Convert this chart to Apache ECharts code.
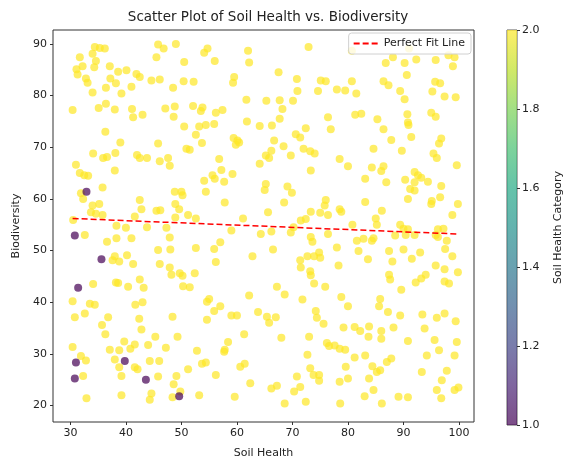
<!DOCTYPE html>
<html>
<head>
<meta charset="utf-8">
<script src="https://cdn.jsdelivr.net/npm/echarts@6/dist/echarts.min.js"></script>
<style>html,body{margin:0;padding:0;background:#fff}#chart{width:565px;height:464px}</style>
</head>
<body>
<div id="chart"></div>
<script>
// Soil Health Category 2 points: [Soil Health, Biodiversity]
const category2Points = [
[34.4,89.4],[35.3,89.2],[36.2,89.1],[34.0,88.1],[31.7,87.4],[34.6,86.7],[34.3,85.5],[32.2,85.7],[31.1,85.1],[31.3,84.1],[32.8,83.3],[33.1,82.5],[34.0,80.6],[37.1,85.7],[38.6,84.6],[40.1,84.9],[37.2,83.3],[38.2,82.4],[36.4,81.5],[39.2,80.4],[41.0,81.7],[41.9,84.2],[42.5,83.6],[44.6,82.9],[46.1,83.1],[45.8,89.9],[46.8,89.1],[49.0,90.0],[45.5,87.4],[50.5,86.5],[48.5,81.5],[50.4,82.8],[52.2,82.7],[30.4,77.2],[35.1,77.6],[36.4,78.4],[38.0,77.3],[41.1,77.4],[41.3,75.8],[43.0,76.3],[47.1,77.5],[48.8,77.9],[48.6,75.9],[52.1,78.0],[50.5,74.0],[36.3,73.0],[39.0,70.9],[45.8,70.7],[34.1,68.8],[35.9,67.9],[36.6,68.1],[38.1,68.9],[42.0,68.5],[42.5,67.9],[43.8,67.9],[47.6,67.9],[50.9,69.7],[51.5,69.5],
[54.7,89.1],[54.1,88.3],[56.0,86.7],[62.0,88.7],[62.2,86.4],[72.9,89.4],[67.5,84.5],[59.5,83.6],[59.3,82.5],[70.8,83.2],[75.1,82.9],[76.0,82.8],[74.6,80.9],[70.9,80.9],[61.7,79.2],[65.3,79.0],[67.7,79.1],[70.1,79.0],[68.2,77.4],[53.8,77.7],[53.5,77.0],[56.2,76.7],[57.4,77.2],[76.4,75.8],[61.8,75.0],[64.1,74.1],[66.3,74.2],[67.7,75.5],[53.2,74.0],[54.4,74.3],[55.9,74.5],[52.6,72.4],[53.7,70.8],[72.4,73.7],[76.9,73.5],[70.6,72.5],[71.4,71.9],[59.4,71.8],[60.1,71.3],[59.8,70.5],[60.4,70.9],[66.7,71.3],[68.4,70.2],[72.0,69.7],[73.2,69.2],[74.0,68.8],[66.2,69.3],[65.2,68.4],[65.8,67.9],[69.7,68.4],[56.8,67.7],
[80.7,88.7],[91.0,89.1],[86.8,86.3],[88.1,87.4],[90.2,86.3],[92.3,87.0],[95.8,86.9],[98.1,87.8],[99.2,87.4],[98.9,85.7],[90.6,84.0],[80.7,82.8],[86.4,82.8],[87.3,82.0],[78.0,81.2],[79.5,81.0],[81.5,80.4],[89.4,80.9],[90.2,79.3],[95.2,80.8],[95.7,82.7],[96.6,82.4],[97.4,79.8],[99.4,79.7],[81.3,76.3],[82.4,76.5],[85.3,75.4],[86.4,73.5],[90.7,76.4],[90.8,74.8],[90.9,74.3],[95.0,76.7],[95.8,75.9],[87.8,71.4],[91.4,72.0],[96.8,71.7],[96.4,70.7],[84.6,69.7],[89.7,69.3],[95.4,68.8],[96.0,67.9],[78.5,67.7],
[31.0,66.6],[46.1,67.3],[47.9,66.4],[38.0,65.5],[31.7,65.0],[32.5,64.6],[33.2,64.5],[35.8,62.2],[31.9,61.1],[32.3,60.0],[34.0,58.7],[35.2,59.0],[33.7,57.4],[34.6,57.1],[35.8,56.9],[30.5,55.9],[42.5,59.8],[42.8,58.0],[41.6,56.6],[45.5,57.7],[46.2,57.8],[48.8,61.4],[50.0,61.4],[50.2,60.7],[48.9,59.0],[49.6,58.0],[48.9,56.4],[51.2,56.9],[38.3,54.8],[40.0,54.4],[43.8,54.5],[47.3,54.4],[32.6,53.0],[36.6,51.7],[38.3,52.4],[41.0,52.4],[47.9,52.5],[45.8,50.1],[48.0,50.2],[38.0,48.9],[37.6,48.1],[38.8,47.9],[40.2,49.1],[41.3,47.4],[46.1,47.4],[47.9,46.7],[48.2,45.3],[49.7,45.6],[50.2,45.1],[42.5,44.4],[34.1,43.5],[38.2,43.8],[38.6,43.7],[40.4,43.0],[43.2,42.8],[50.3,43.1],[51.5,42.9],
[64.1,66.8],[73.3,65.5],[55.6,64.6],[57.2,65.6],[57.7,63.3],[54.1,63.5],[56.0,63.9],[59.2,64.8],[54.4,61.4],[57.8,59.3],[65.2,62.9],[65.0,61.7],[69.1,62.4],[69.9,61.2],[68.5,59.3],[65.6,57.4],[73.3,57.5],[75.0,57.3],[76.0,59.8],[75.8,58.7],[76.4,56.9],[71.5,55.8],[72.4,56.1],[52.6,56.2],[61.1,56.2],[59.0,53.9],[64.3,53.2],[66.2,53.7],[69.7,53.5],[70.2,54.5],[73.3,52.6],[73.6,51.7],[76.4,53.2],[52.6,50.5],[55.9,50.3],[57.0,51.6],[66.5,50.2],[62.8,48.9],[56.2,47.8],[72.7,48.9],[73.9,48.9],[75.0,48.6],[74.8,49.6],[71.4,48.1],[71.5,46.7],[73.2,46.0],[73.3,45.2],[52.4,45.6],[67.2,43.0],[73.9,43.6],[75.9,43.0],
[80.0,66.3],[84.3,66.1],[86.4,66.3],[86.0,65.4],[99.6,66.5],[83.1,63.9],[86.9,63.2],[90.3,63.7],[92.0,65.2],[92.6,64.6],[93.2,64.1],[92.0,63.2],[94.4,63.3],[91.2,61.9],[92.0,61.6],[90.8,60.0],[96.8,62.5],[96.6,60.3],[95.1,59.6],[95.0,59.0],[99.8,59.0],[98.8,56.9],[83.1,59.4],[86.1,57.7],[78.5,58.0],[78.8,57.5],[85.0,56.2],[85.2,55.0],[80.8,55.0],[89.4,55.0],[90.0,54.2],[90.8,54.1],[88.5,52.9],[90.4,53.0],[92.0,53.0],[96.2,54.1],[97.2,54.2],[95.8,53.0],[96.2,52.6],[97.8,51.9],[97.5,50.3],[81.6,51.9],[82.8,52.3],[84.3,51.9],[84.6,52.4],[78.0,50.6],[81.9,49.9],[87.4,49.9],[90.0,50.2],[93.0,49.6],[88.0,47.9],[91.5,48.4],[83.6,48.3],[98.8,48.9],[78.3,47.1],[95.8,47.1],[97.4,46.4],[99.8,45.8],[87.4,45.3],[87.6,44.4],[94.0,45.3],[93.2,44.6],[92.2,43.8],[97.4,44.0],[98.2,43.6],[89.6,42.4],
[30.4,40.2],[33.5,39.7],[34.4,39.5],[41.7,39.5],[43.0,40.0],[30.8,37.1],[32.6,37.8],[36.8,37.1],[35.7,35.6],[36.3,33.8],[42.4,36.8],[42.8,34.7],[48.4,37.2],[49.3,33.3],[45.3,33.3],[39.7,32.4],[41.6,31.8],[40.8,31.0],[44.0,31.7],[47.2,31.2],[37.1,30.8],[38.8,30.7],[30.4,31.3],[31.9,29.6],[32.8,28.7],[38.0,28.9],[38.8,27.4],[41.6,27.4],[42.1,27.0],[44.3,28.6],[46.0,28.6],[32.3,25.7],[39.2,25.7],[45.8,25.6],[49.1,25.7],[48.6,24.1],[51.2,27.0],[32.9,21.4],[39.2,22.0],[44.6,22.3],[44.3,21.1],[48.4,21.6],[49.8,22.7],
[55.0,40.6],[54.6,40.1],[57.0,39.2],[55.9,38.3],[54.6,36.6],[62.2,41.3],[68.6,41.5],[71.8,40.5],[59.0,37.4],[60.0,37.4],[63.8,38.1],[65.4,37.2],[67.0,37.1],[65.8,36.0],[74.2,38.3],[74.4,37.0],[75.6,35.8],[61.3,33.8],[58.4,32.3],[57.8,30.8],[57.7,30.4],[52.8,30.6],[68.0,33.1],[73.0,33.3],[76.2,32.1],[76.6,31.5],[72.7,29.8],[53.7,28.1],[54.4,28.3],[60.6,27.5],[61.4,28.1],[56.2,25.9],[73.2,27.2],[73.8,25.9],[74.8,25.9],[74.8,24.8],[70.8,25.6],[62.4,24.3],[66.2,23.3],[67.2,23.8],[71.4,23.6],[70.3,22.7],[53.2,22.0],[59.6,21.7],[68.6,20.4],[72.4,20.7],
[78.8,41.0],[80.0,39.2],[85.8,40.6],[85.6,39.2],[87.2,38.1],[89.4,37.4],[93.4,37.6],[96.0,37.0],[97.4,37.8],[99.4,36.3],[79.2,35.1],[81.2,35.2],[82.2,34.4],[83.8,35.3],[83.7,33.3],[86.0,34.4],[86.0,32.9],[88.2,35.1],[90.8,32.5],[93.8,34.9],[95.6,32.7],[99.6,32.3],[77.6,31.6],[78.5,31.0],[79.5,30.8],[81.2,29.3],[83.1,29.7],[96.4,30.7],[99.2,29.7],[94.2,29.7],[79.6,27.5],[84.4,27.6],[85.2,26.5],[85.8,26.8],[87.0,28.4],[87.8,29.1],[93.3,26.5],[97.8,26.7],[96.9,24.9],[78.5,24.6],[80.0,25.2],[83.8,25.2],[83.0,21.8],[84.6,23.0],[86.1,20.4],[89.1,21.7],[90.8,21.6],[96.0,23.0],[96.8,21.4],[99.2,23.0],[99.9,23.5],[78.6,20.4]
];
// Soil Health Category 1 points
const category1Points = [[32.9,61.4],[30.8,52.9],[35.6,48.3],[31.4,42.8],[31.0,28.3],[39.8,28.6],[30.8,25.2],[43.6,25.0],[49.6,21.8]];
// Perfect fit line endpoints
const fitLinePoints = [[30.4,56.2],[99.8,53.2]];
const xTicks = [30,40,50,60,70,80,90,100];
const yTicks = [20,30,40,50,60,70,80,90];
const colorbarMin = 1.0, colorbarMax = 2.0, colorbarStep = 0.2;

const viridis = ['#440154','#482475','#414487','#355f8d','#2a788e','#21918c','#22a884','#44bf70','#7ad151','#bddf26','#fde725'];
const FONT = 'DejaVu Sans';
const chart = echarts.init(document.getElementById('chart'), null, {renderer:'canvas'});
const gradStops = viridis.slice().reverse().map((c,i)=>({offset:i/10,color:c}));

chart.setOption({
  animation:false,
  textStyle:{fontFamily:FONT,color:'#222'},
  title:{text:'Scatter Plot of Soil Health vs. Biodiversity',left:263,textAlign:'center',top:5,
    textStyle:{fontFamily:FONT,fontSize:13.5,fontWeight:'normal',color:'#222'}},
  legend:{data:[{name:'Perfect Fit Line',itemStyle:{opacity:0}}],right:94,top:33,itemWidth:25,itemHeight:10,itemGap:5,
    padding:[5,6,5,4],backgroundColor:'rgba(255,255,255,0.8)',borderColor:'#d0d0d0',borderWidth:1,borderRadius:3,
    textStyle:{fontFamily:FONT,fontSize:11,color:'#222'}},
  grid:[
    {left:53,top:30,width:421,height:394,show:true,borderColor:'#333',borderWidth:1,backgroundColor:'transparent'},
    {left:507,top:30,width:20,height:395,show:true,borderColor:'#333',borderWidth:0.8}
  ],
  xAxis:[
    {type:'value',gridIndex:0,min:26.87,max:102.7,name:'Soil Health',nameLocation:'middle',nameGap:26,
     nameTextStyle:{fontFamily:FONT,fontSize:11,color:'#222'},
     axisLine:{show:false},splitLine:{show:false},
     axisTick:{show:true,length:3,lineStyle:{color:'#333'},customValues:xTicks},
     axisLabel:{fontFamily:FONT,fontSize:11,color:'#222',margin:6,customValues:xTicks}},
    {type:'category',gridIndex:1,data:['cb'],show:false}
  ],
  yAxis:[
    {type:'value',gridIndex:0,min:16.8,max:92.7,name:'Biodiversity',nameLocation:'middle',nameGap:29,
     nameTextStyle:{fontFamily:FONT,fontSize:11,color:'#222'},
     axisLine:{show:false},splitLine:{show:false},
     axisTick:{show:true,length:3,lineStyle:{color:'#333'},customValues:yTicks},
     axisLabel:{fontFamily:FONT,fontSize:11,color:'#222',margin:6,customValues:yTicks}},
    {type:'value',gridIndex:1,min:colorbarMin,max:colorbarMax,interval:colorbarStep,position:'right',
     name:'Soil Health Category',nameLocation:'middle',nameGap:36,nameRotate:90,
     nameTextStyle:{fontFamily:FONT,fontSize:11,color:'#222'},
     axisLine:{show:false},splitLine:{show:false},
     axisTick:{show:true,length:3,lineStyle:{color:'#333'}},
     axisLabel:{fontFamily:FONT,fontSize:11,color:'#222',margin:5,formatter:v=>v.toFixed(1)}}
  ],
  series:[
    {type:'scatter',name:'Category 2',xAxisIndex:0,yAxisIndex:0,data:category2Points,symbolSize:8,
     itemStyle:{color:viridis[10],opacity:0.7},z:2},
    {type:'scatter',name:'Category 1',xAxisIndex:0,yAxisIndex:0,data:category1Points,symbolSize:8,
     itemStyle:{color:viridis[0],opacity:0.7},z:2},
    {type:'line',name:'Perfect Fit Line',xAxisIndex:0,yAxisIndex:0,data:fitLinePoints,symbol:'none',
     lineStyle:{color:'#ff0000',width:1.5,type:[6,3]},itemStyle:{color:'#ff0000'},z:3},
    {type:'bar',name:'cbBase',xAxisIndex:1,yAxisIndex:1,stack:'cb',data:[colorbarMin],barWidth:'100%',
     itemStyle:{color:'rgba(0,0,0,0)'},silent:true},
    {type:'bar',name:'cbBar',xAxisIndex:1,yAxisIndex:1,stack:'cb',data:[colorbarMax-colorbarMin],barWidth:'100%',
     itemStyle:{color:new echarts.graphic.LinearGradient(0,0,0,1,gradStops),opacity:0.7},silent:true}
  ]
});
</script>
</body>
</html>
